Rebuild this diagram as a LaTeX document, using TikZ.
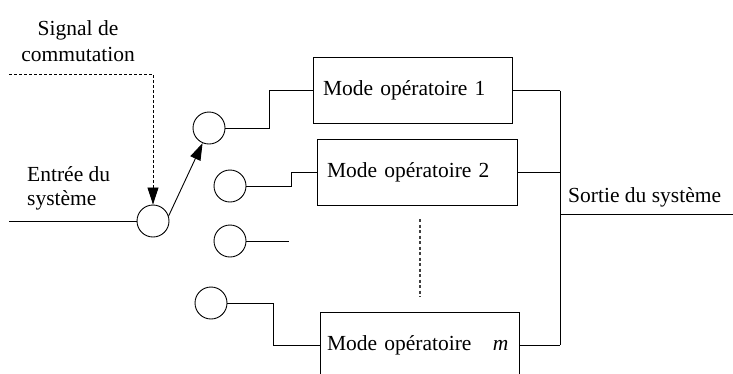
\documentclass[tikz,border=0pt]{standalone}
\usepackage{fontspec}
\setmainfont{Liberation Serif}
\usetikzlibrary{arrows.meta}
\tikzset{
  lbl/.style={inner sep=0pt, font=\fontsize{21.5}{25}\selectfont},
  sw/.style={draw, circle, minimum size=32pt, inner sep=0pt, line width=0.9pt},
  modebox/.style={draw, line width=0.9pt, minimum height=66pt, inner xsep=10pt, inner ysep=0pt,
    align=left, font=\fontsize{21.5}{25}\selectfont},
  wire/.style={line width=0.9pt},
  tip/.style={-{Triangle[length=17pt,width=11pt]}},
  sig/.style={line width=0.8pt, dash pattern=on 3pt off 2pt},
  dots/.style={line width=1.3pt, dash pattern=on 3pt off 2.5pt, draw=black!75}
}
\begin{document}
\begin{tikzpicture}[x=1pt,y=-1pt]
\useasboundingbox (0,0) rectangle (733,373);
\clip (0,0) rectangle (733,373);
% labels
\node[lbl, align=center] (sig) at (78,41) {Signal de\\[1pt]commutation};
\node[lbl, align=left, anchor=west] (ent) at (27,188) {Entrée du\\[-1pt]système};
\node[lbl, anchor=base west] (sortie) at (568,202) {Sortie du système};
% switch circles
\node[sw] (in) at (153,221) {};
\node[sw] (c1) at (209,128) {};
\node[sw] (c2) at (230,186) {};
\node[sw] (c3) at (230,241) {};
\node[sw] (c4) at (211,303) {};
% boxes
\node[modebox, text width=179pt] (b1) at (412.5,90.5) {Mode opératoire 1};
\node[modebox, text width=180pt] (b2) at (417,172) {Mode opératoire 2};
\node[modebox, inner xsep=7pt, text width=185pt] (bm) at (419.5,345) {Mode opératoire\quad\textit{m}};
% coordinates
\coordinate (inStart) at (9,221);
\coordinate (sigStart) at (9,74);
\coordinate (sigCorner) at (153,74);
\coordinate (c3end) at (289,241);
\coordinate (busx) at (560,0);
\coordinate (outStart) at (560,214);
\coordinate (outEnd) at (733,214);
\coordinate (dotTop) at (420,219);
\coordinate (dotBot) at (420,297);
% input
\draw[wire] (inStart) -- (in.west);
\draw[sig, tip] (sigStart) -- (sigCorner) -- (in.north);
\draw[wire, tip] (in.18) -- (c1.-113);
% to boxes
\draw[wire] (c1.east) -- ++(44,0) |- (b1.west);
\draw[wire] (c2.east) -- ++(45,0) |- (b2.west);
\draw[wire] (c3.east) -- (c3end);
\draw[wire] (c4.east) -- ++(46,0) |- (bm.west);
\draw[dots] (dotTop) -- (dotBot);
% outputs
\draw[wire] (b1.east) -- (b1.east -| busx);
\draw[wire] (b2.east) -- (b2.east -| busx);
\draw[wire] (bm.east) -- (bm.east -| busx);
\draw[wire] (b1.east -| busx) -- (bm.east -| busx);
\draw[wire] (outStart) -- (outEnd);
\end{tikzpicture}
\end{document}
